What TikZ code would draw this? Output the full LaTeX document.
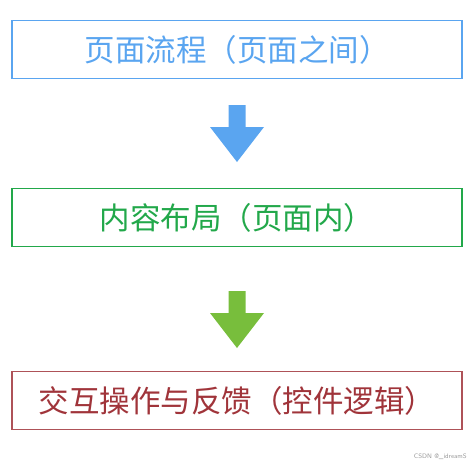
\documentclass[tikz,border=0pt]{standalone}
\usepackage{fontspec}
\newfontfamily\cjk{Noto Sans CJK SC}
\definecolor{cblue}{HTML}{5AA5F0}
\definecolor{cgreen}{HTML}{22A84A}
\definecolor{cagreen}{HTML}{78BE3C}
\definecolor{cred}{HTML}{A0343A}
\begin{document}
\begin{tikzpicture}[x=1pt,y=-1pt,
  stepbox/.style={draw,line width=1.3pt,minimum width=450pt,minimum height=58pt,inner sep=0pt,font=\cjk\fontsize{30.5}{36}\selectfont}]
\useasboundingbox (0,0) rectangle (474,464);
\node[stepbox,draw=cblue,text=cblue] (b1) at (237,49.5) {页面流程（页面之间）};
\node[stepbox,draw=cgreen,text=cgreen] (b2) at (237,217.5) {内容布局（页面内）};
\node[stepbox,draw=cred!85,text=cred] (b3) at (237,400.5) {交互操作与反馈（控件逻辑）};
\coordinate (a1) at (237,105);
\coordinate (a2) at (237,291);
\fill[cblue] (a1) ++(-8.5,0) -- ++(17,0) -- ++(0,22) -- ++(18.5,0) -- (237,162) -- (210,127) -- ++(18.5,0) -- cycle;
\fill[cagreen] (a2) ++(-8.5,0) -- ++(17,0) -- ++(0,22) -- ++(18.5,0) -- (237,348) -- (210,313) -- ++(18.5,0) -- cycle;
\node[font=\sffamily\fontsize{6.5}{7}\selectfont,text=black!40,anchor=east,inner sep=0pt] (wm) at (467,457) {CSDN @\_idreamS};
\end{tikzpicture}
\end{document}
